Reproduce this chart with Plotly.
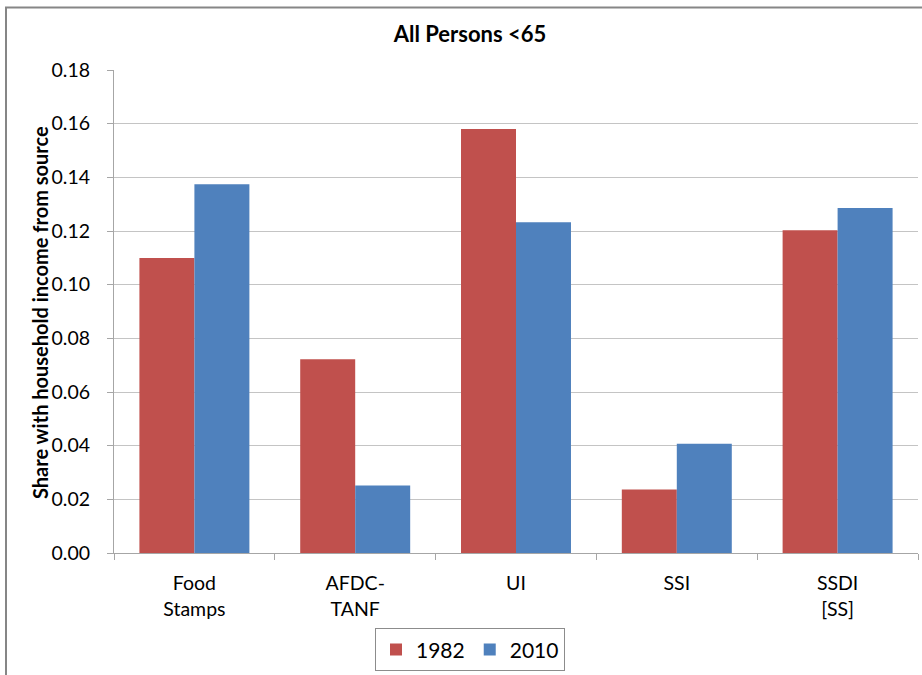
import plotly.graph_objects as go

# Data
categories = ["Food<br>Stamps", "AFDC-<br>TANF", "UI", "SSI", "SSDI<br>[SS]"]
share_1982 = [0.1099, 0.0722, 0.1580, 0.0237, 0.1203]
share_2010 = [0.1374, 0.0252, 0.1233, 0.0407, 0.1286]
y_ticks = [0.00, 0.02, 0.04, 0.06, 0.08, 0.10, 0.12, 0.14, 0.16, 0.18]

FONT = "Lato, Calibri, Arial, sans-serif"
RED = "#C0504D"
BLUE = "#4F81BD"
GRID = "#C4C4C4"
AXIS = "#A6A6A6"

fig = go.Figure()
fig.add_trace(go.Bar(name="1982", x=categories, y=share_1982,
                     marker=dict(color=RED, line=dict(width=0))))
fig.add_trace(go.Bar(name="2010", x=categories, y=share_2010,
                     marker=dict(color=BLUE, line=dict(width=0))))

W, H = 922, 675
L, R, T, B = 114, 4, 70, 118
pw = W - L - R
ph = H - T - B

def px_x(p):
    return (p - L) / pw

def px_y(p):
    return (H - B - p) / ph

fig.update_layout(
    width=W, height=H,
    margin=dict(l=L, r=R, t=T, b=B, pad=0),
    paper_bgcolor="white", plot_bgcolor="white",
    barmode="group", bargap=0.316, bargroupgap=0,
    font=dict(family=FONT, size=19, color="#000000"),
    title=dict(text="<b>All Persons <65</b>", x=470 / W, xref="container",
               xanchor="center", y=1 - 34 / H, yref="container", yanchor="middle",
               font=dict(family=FONT, size=22, color="#000000")),
    showlegend=True,
    legend=dict(orientation="h", x=px_x(470), xanchor="center",
                y=px_y(633), yanchor="top",
                bordercolor="#8C8C8C", borderwidth=1,
                font=dict(family=FONT, size=21, color="#000000"),
                itemwidth=30, traceorder="normal"),
    xaxis=dict(showline=True, linecolor=AXIS, linewidth=1,
               ticks="outside", tickson="boundaries", ticklen=6, tickcolor=AXIS,
               ticklabelstandoff=13,
               tickfont=dict(family=FONT, size=19.5), showgrid=False),
    yaxis=dict(range=[0, 0.18], tickvals=y_ticks, tickformat=".2f",
               showline=True, linecolor=AXIS, linewidth=1,
               ticks="outside", ticklen=6, tickcolor=AXIS,
               ticklabelstandoff=13,
               showgrid=True, gridcolor=GRID, gridwidth=1.3,
               tickfont=dict(family=FONT, size=19.5), zeroline=False),
)

fig.add_annotation(text="<b>Share with household income from source</b>",
                   xref="paper", yref="paper", x=px_x(40), y=px_y(315),
                   textangle=-90, showarrow=False, xanchor="center", yanchor="middle",
                   font=dict(family=FONT, size=20, color="#000000"))

# Chart frame (top and left edges visible)
fig.add_shape(type="rect", xref="paper", yref="paper",
              x0=px_x(6), x1=px_x(960), y0=px_y(700), y1=px_y(7),
              line=dict(color="#868686", width=2), fillcolor="rgba(0,0,0,0)",
              layer="above")

fig.write_html("out.html")
